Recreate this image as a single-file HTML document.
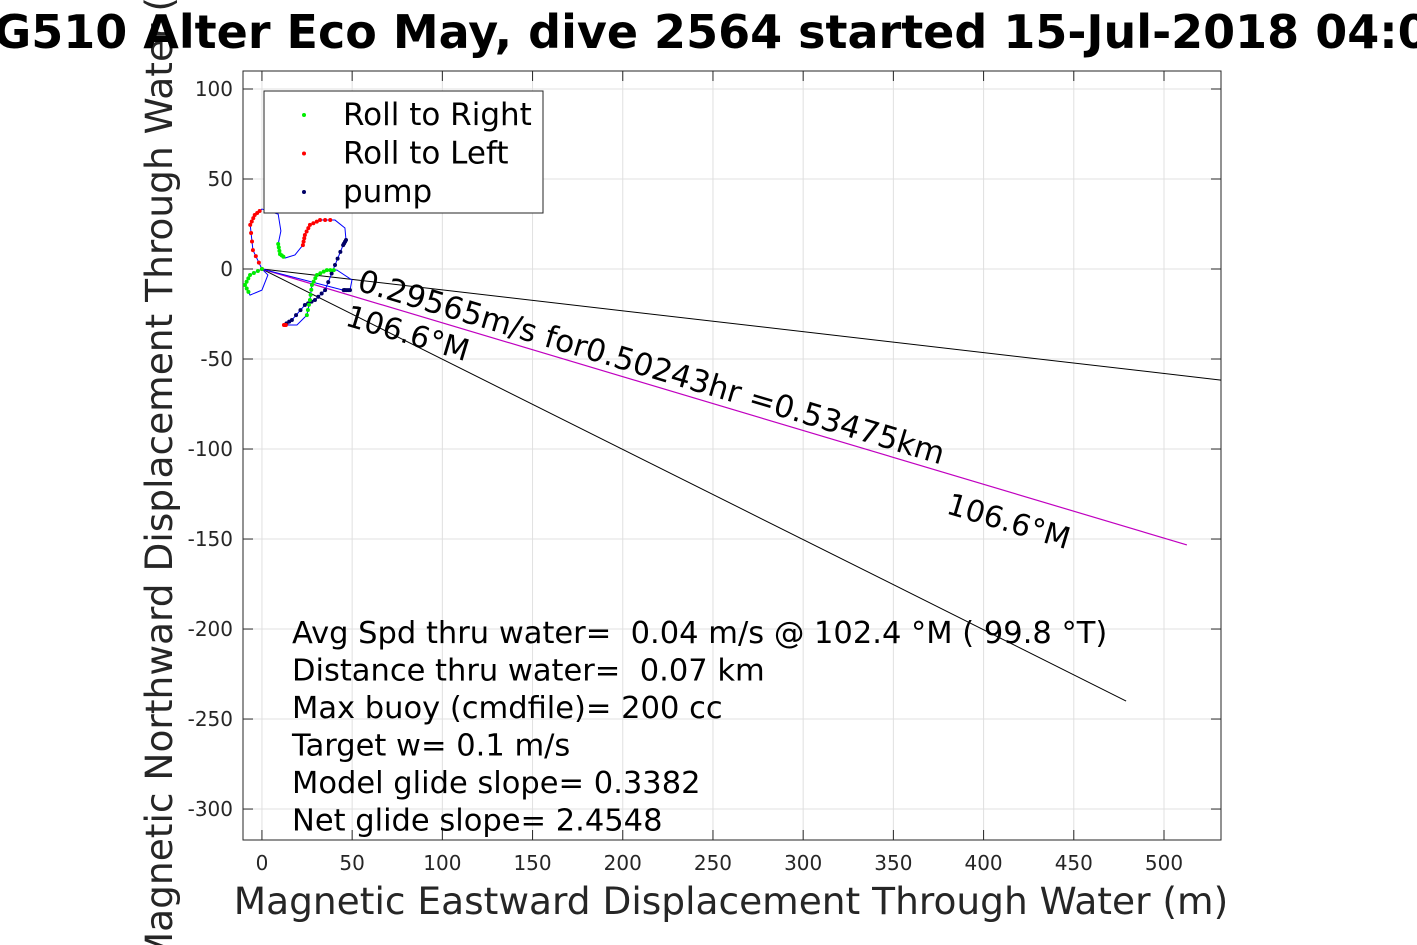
<!DOCTYPE html>
<html><head><meta charset="utf-8"><style>
body{margin:0;background:#fff;width:1417px;height:945px;overflow:hidden;font-family:"DejaVu Sans","Liberation Sans",sans-serif}
svg{display:block}
text{white-space:pre}
</style></head><body>
<svg id="c" width="1417" height="945" xmlns="http://www.w3.org/2000/svg"></svg>
<script>
const xTicks=[0,50,100,150,200,250,300,350,400,450,500];
const yTicks=[100,50,0,-50,-100,-150,-200,-250,-300];
const trackX=[0,-5,-6.5,-4,0,9,10.5,9,10,12.8,18.3,22.7,23.8,26.6,32.2,40.5,46,46.6,45,40.5,35,29.4,23.8,16.6,12.2,13.8,19.4,24.9,26.6,27.7,30.5,36,41.6,49.9,48.8,46,45,0,-6.6,-9.4,-6.6,0,3.3,0];
const trackY=[0,10.5,24.5,30,33.3,30.5,21.1,13.9,8.3,6.1,7.8,13.3,18.9,24.5,27.2,27.2,22.8,16.1,13.3,2.2,-11.7,-17.2,-20,-28.3,-31.1,-31.1,-31.1,-25.6,-17.2,-8.9,-3.3,-0.6,-0.6,-6.1,-11.7,-11.7,-11.7,0,-3.3,-8.9,-14.5,-11.7,-3.3,0];
const trackC=["r","r","r","r","b","b","b","g","g","b","b","r","r","r","r","b","b","k","k","k","k","k","k","k","r","b","b","g","g","g","g","g","b","b","k","k","b","g","g","g","b","b","b","b"];
const lineEnds=[[531.6,-61.7],[479,-240]];
const avgLineEnd=[512.7,-153.3];
const notes=["Avg Spd thru water=  0.04 m/s @ 102.4 °M ( 99.8 °T)","Distance thru water=  0.07 km","Max buoy (cmdfile)= 200 cc","Target w= 0.1 m/s","Model glide slope= 0.3382","Net glide slope= 2.4548"];
const L=243,R=1221,T=71,B=840,xmin=-10.5,xmax=531.6,ymin=-317.2,ymax=110;
const sx=v=>L+(v-xmin)/(xmax-xmin)*(R-L), sy=v=>B-(v-ymin)/(ymax-ymin)*(B-T);
const svg=document.getElementById('c'),NS="http://www.w3.org/2000/svg";
function mk(t,a,p){const e=document.createElementNS(NS,t);for(const k in a)e.setAttribute(k,a[k]);(p||svg).appendChild(e);return e;}
function tx(s,a){const e=mk('text',a);e.textContent=s;return e;}
mk('rect',{x:L,y:T,width:R-L,height:B-T,fill:'#fff'});
for(const v of xTicks){const g=mk('line',{x1:sx(v),x2:sx(v),y1:T,y2:B,stroke:'#e0e0e0'});

mk('line',{x1:sx(v),x2:sx(v),y1:B,y2:B-10,stroke:'#262626'});mk('line',{x1:sx(v),x2:sx(v),y1:T,y2:T+10,stroke:'#262626'});
const t=tx(String(v),{x:sx(v),y:870,'font-size':20,'text-anchor':'middle',fill:'#262626'});
}
for(const v of yTicks){const g=mk('line',{x1:L,x2:R,y1:sy(v),y2:sy(v),stroke:'#e0e0e0'});

mk('line',{x1:L,x2:L+10,y1:sy(v),y2:sy(v),stroke:'#262626'});mk('line',{x1:R,x2:R-10,y1:sy(v),y2:sy(v),stroke:'#262626'});
const t=tx(String(v),{x:233,y:sy(v)+7,'font-size':20,'text-anchor':'end',fill:'#262626'});
}
mk('rect',{x:L,y:T,width:R-L,height:B-T,fill:'none',stroke:'#262626'});
for(const e of lineEnds){const l=mk('line',{x1:sx(0),y1:sy(0),x2:sx(e[0]),y2:sy(e[1]),stroke:'#000','stroke-width':1});
}
const al=mk('line',{x1:sx(0),y1:sy(0),x2:sx(avgLineEnd[0]),y2:sy(avgLineEnd[1]),stroke:'#c000c0','stroke-width':1.2});

let d='';trackX.forEach((x,i)=>{d+=(i?'L':'M')+sx(x)+' '+sy(trackY[i]);});
const tp=mk('path',{d:d,fill:'none',stroke:'#0000ff','stroke-width':1});

const col={r:'#ff0000',g:'#00ee00',k:'#000066'};
for(let i=0;i<trackX.length-1;i++){const c=trackC[i];if(!col[c])continue;
for(let f=0;f<1;f+=0.34){const x=trackX[i]+(trackX[i+1]-trackX[i])*f,y=trackY[i]+(trackY[i+1]-trackY[i])*f;
const m=mk('circle',{cx:sx(x),cy:sy(y),r:2,fill:col[c]});
}}
const ang=Math.atan2(sy(avgLineEnd[1])-sy(0),sx(avgLineEnd[0])-sx(0))*180/Math.PI;
let t=tx('0.29565m/s for0.50243hr =0.53475km',{x:356,y:290,'font-size':31,transform:`rotate(${ang} 356 290)`});

t=tx('106.6°M',{x:344,y:325,'font-size':30,transform:`rotate(${ang} 344 325)`});

t=tx('106.6°M',{x:945,y:513,'font-size':30,transform:`rotate(${ang} 945 513)`});

notes.forEach((s,i)=>{const n=tx(s,{x:292,y:643+i*37.5,'font-size':30.5});
});
const lg=mk('g',{});
mk('rect',{x:264,y:91,width:279,height:122,fill:'#fff',stroke:'#262626'},lg);
[['Roll to Right','#00ee00'],['Roll to Left','#ff0000'],['pump','#000066']].forEach((e,i)=>{
const g=mk('g',{},lg);
mk('circle',{cx:304,cy:115+i*38.5,r:2,fill:e[1]},g);
const q=mk('text',{x:343,y:125+i*38.5,'font-size':31},g);q.textContent=e[0];});
t=tx('Magnetic Eastward Displacement Through Water (m)',{x:731,y:914,'font-size':37.5,'text-anchor':'middle',fill:'#262626'});

t=tx('Magnetic Northward Displacement Through Water (m)',{x:0,y:0,'font-size':37.5,'text-anchor':'middle',fill:'#262626',transform:'translate(172 455) rotate(-90)'});

t=tx('SG510 Alter Eco May, dive 2564 started 15-Jul-2018 04:02',{x:711,y:48,'font-size':46,'font-weight':'bold','text-anchor':'middle'});

</script>
</body></html>
